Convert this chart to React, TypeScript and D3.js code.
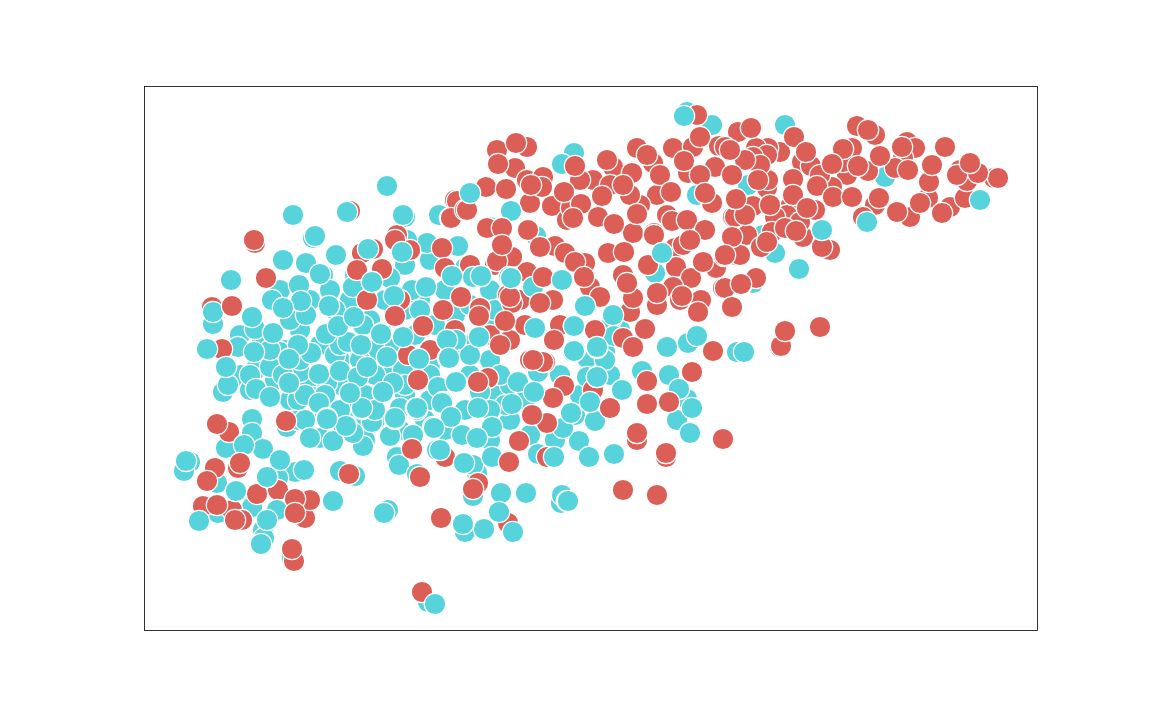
import React from "react";
import * as d3 from "d3";

type P = [number, number];

const tealBack: P[] = [
[213,324],[190,462],[184,471],[223,392],[287,427],[298,420],[405,217],[313,238],[323,275],[403,250],[473,496],[355,476],[340,471],[388,510],[428,602],[465,531],[465,532],[397,457],[561,503],[562,495],[574,153],[697,195],[748,185],[763,235],[775,253],[753,283],[885,177],[655,273],[490,227],[536,236],
[240,335],[262,340],[285,350],[300,330],[320,345],[340,360],[360,355],[375,350],[395,345],[415,335],[435,325],[455,315],[470,305],[490,320],[455,350],[470,345],[490,360],[470,375],[430,365],[410,375],[385,375],[365,395],[345,410],[325,415],[305,420],[290,400],[275,380],[255,370],[240,375],[250,390],[310,385],[340,385],[405,395],[425,420],[445,430],[400,430],[375,420],[355,420],[320,438],[365,440],[405,310],[420,300],[385,300],[370,320],[350,300],[335,310],[310,300],[290,320],[280,290],[330,290],[355,275],[405,265],[430,260],[445,290],[465,268],[490,290],[495,310],[480,395],[495,395],[510,385],[525,400],[510,420],[490,440],[530,435],[555,440],[575,415],[580,395],[560,375],[590,365],[605,352],[610,375],[620,330],[612,318],[605,330],
[252,419],[252,433],[226,448],[263,449],[217,483],[252,507],[218,513],[295,472],[278,478],[263,530],[264,538],[261,544],[292,558],[435,604],[384,513],[484,529],[464,523],[427,243],[407,240],[439,215],[353,287],[390,278],[412,290],[272,300],[299,285],[255,329],[238,347],[226,367],[280,352],[270,367],[298,400],[313,397],[300,372],[327,383],[383,393],[403,370],[343,425],[347,426],[333,441],[310,438],[363,446],[353,433],[372,422],[362,409],[390,436],[395,419],[417,410],[433,427],[452,417],[462,435],[399,465],[417,474],[463,463],[477,473],[473,465],[538,454],[579,441],[563,428],[614,454],[677,420],[690,433],[687,399],[692,408],[642,371],[622,390],[500,375],[518,382],[538,372],[574,350],[587,358],[587,377],[605,360],[614,336],[712,125],[785,125],[687,112],[562,164],
];

const redBack: P[] = [
[212,307],[255,243],[222,349],[229,432],[215,468],[238,468],[203,506],[232,510],[242,520],[235,520],[305,518],[310,500],[278,490],[294,561],[350,211],[397,235],[373,249],[362,253],[382,269],[367,300],[410,250],[420,477],[443,455],[478,483],[508,523],[547,457],[637,440],[666,457],[547,423],[564,386],[553,398],[593,390],[445,457],[488,378],[693,372],
[408,355],[430,350],[455,330],[490,335],[510,340],[530,360],[545,362],[520,300],[525,325],[495,265],[470,265],[395,240],[480,308],[400,300],
[527,147],[497,150],[515,168],[487,187],[455,200],[450,218],[530,203],[552,206],[527,180],[543,177],[542,187],[567,220],[593,180],[613,167],[632,173],[637,148],[653,163],[657,195],[640,205],[633,233],[654,233],[667,215],[672,221],[687,220],[712,203],[673,148],[693,147],[719,146],[715,167],[688,173],[733,217],[487,228],[528,230],[555,246],[565,253],[527,272],[512,303],[512,257],[497,261],[553,300],[585,263],[575,262],[590,287],[608,253],[648,265],[675,248],[683,245],[676,267],[691,278],[716,268],[723,288],[740,285],[701,300],[682,296],[657,305],[698,312],[673,287],[623,275],[630,312],[623,338],[595,330],[560,325],[543,362],[533,360],
[738,132],[875,135],[907,142],[915,148],[903,158],[895,168],[908,170],[852,148],[847,175],[843,162],[868,171],[802,162],[811,166],[780,152],[768,148],[756,148],[767,155],[753,157],[725,147],[767,188],[817,186],[832,187],[875,205],[879,198],[790,207],[787,215],[775,217],[803,237],[830,250],[863,217],[910,217],[928,198],[950,207],[965,198],[970,172],[960,170],[967,181],[957,175],[994,178],[998,178],[753,206],[735,217],[747,235],[772,232],[761,247],[725,255],[735,255],[742,284],[725,288],[780,347],[697,115],[768,180],[760,165],[745,160],[820,175],[637,433],[666,453],[571,208],[630,195],[705,230],[690,240],[680,300],[740,255],[745,215],[815,210],[800,222],[785,228],[770,205],[730,150],[660,175],[700,175],[610,185],[580,180],
];

const tealMid: P[] = [
[470,355],[430,375],[405,385],[375,375],[360,360],[335,355],[325,395],[305,395],[480,392],[505,405],[490,410],[465,410],[430,400],[400,408],[340,345],[270,350],[300,360],[250,375],[283,375],[340,410],[375,410],
[387,186],[293,215],[347,212],[403,215],[315,236],[283,260],[231,280],[306,263],[336,255],[320,274],[368,249],[402,252],[458,246],[470,193],[372,282],[394,296],[426,287],[452,276],[447,340],[448,358],[419,359],[420,310],[403,337],[382,333],[363,325],[387,357],[348,342],[326,334],[361,345],[311,353],[298,345],[338,326],[354,317],[306,315],[301,301],[283,308],[329,306],[252,317],[213,312],[207,349],[254,352],[273,333],[228,385],[256,389],[270,397],[289,359],[319,374],[340,371],[289,383],[350,393],[358,377],[319,403],[367,367],[438,387],[456,382],[443,402],[416,408],[362,408],[393,383],[186,461],[244,445],[280,460],[304,470],[267,477],[236,491],[333,501],[277,510],[199,521],[267,520],[384,513],[464,463],[437,450],[442,403],[327,418],[413,435],[492,457],[462,435],[501,493],[526,493],[499,512],[513,532],[567,501],[589,457],[554,457],[571,413],[595,421],[590,402],[597,377],[597,348],[573,352],[669,375],[679,389],[667,347],[688,343],[697,336],[737,352],[744,352],[511,211],[509,277],[481,276],[473,277],[511,278],[533,287],[562,280],[586,306],[613,315],[535,328],[479,337],[534,392],[512,404],[478,408],[451,417],[440,450],[492,427],[456,340],[477,438],[799,269],[574,326],[575,350],
];

const redFront: P[] = [
[254,240],[266,278],[232,306],[357,270],[286,421],[217,424],[207,481],[240,463],[217,505],[257,494],[295,499],[295,513],[292,549],[349,474],[422,592],[441,518],[412,449],[473,489],[509,462],[519,441],[532,415],[610,408],[637,433],[623,490],[657,495],[723,439],[647,381],[647,404],[669,402],[692,372],[713,351],[781,346],[785,331],[820,327],[666,453],[418,380],[423,326],[395,316],[443,310],[461,297],[442,248],[445,268],[457,201],[451,218],[465,210],[478,382],[505,321],[479,316],[500,345],[508,295],[540,303],[543,277],[510,297],[554,340],[633,347],[645,329],[486,187],[467,210],
[516,143],[498,164],[506,189],[531,185],[564,192],[581,204],[573,218],[575,166],[602,196],[607,160],[623,185],[647,155],[598,217],[614,224],[637,214],[671,192],[705,193],[684,161],[732,175],[735,199],[502,228],[502,245],[540,247],[584,277],[600,297],[624,252],[654,235],[703,262],[724,256],[732,237],[682,296],[657,293],[633,298],[627,283],[732,308],[751,128],[700,137],[794,137],[857,126],[868,130],[945,147],[902,147],[880,156],[843,149],[832,164],[858,166],[806,152],[793,179],[817,186],[833,197],[852,197],[793,195],[807,208],[796,231],[822,247],[897,212],[920,203],[942,213],[929,182],[932,165],[978,173],[970,163],[736,199],[758,180],[767,242],[756,278],[741,284],[732,307],[725,255],
];

const tealTop: P[] = [
[684,116],[867,222],[980,200],[822,230],[662,253],[470,193],[585,306],[456,382],[417,408],[383,392],[350,393],[289,383],[226,367],[236,491],[267,477],[381,334],[372,282],[452,276],[481,276],[511,278],[562,280],[574,326],[597,347],[574,351],[597,377],[447,340],[449,358],[434,428],[395,418],[346,426],[327,419],[435,604],[463,524],[568,501],
];

const groups = [
  { pts: tealBack, color: "#57d3db" },
  { pts: redBack, color: "#db5f57" },
  { pts: tealMid, color: "#57d3db" },
  { pts: redFront, color: "#db5f57" },
  { pts: tealTop, color: "#57d3db" },
];

const x = d3.scaleLinear().domain([144, 1037]).range([144, 1037]);
const y = d3.scaleLinear().domain([86, 630]).range([86, 630]);

export default function App() {
  return (
    <svg width={1152} height={720} style={{ position: "absolute", left: 0, top: 0 }}>
      <rect x={0} y={0} width={1152} height={720} fill="#fff" />
      {groups.map((g, i) => (
        <g key={i}>
          {g.pts.map((p, j) => (
            <circle key={j} cx={x(p[0])} cy={y(p[1])} r={10.7} fill={g.color} stroke="#fff" strokeWidth={1.2} />
          ))}
        </g>
      ))}
      <rect x={144.5} y={86.5} width={893} height={544} fill="none" stroke="#000" strokeWidth={0.8} />
    </svg>
  );
}
